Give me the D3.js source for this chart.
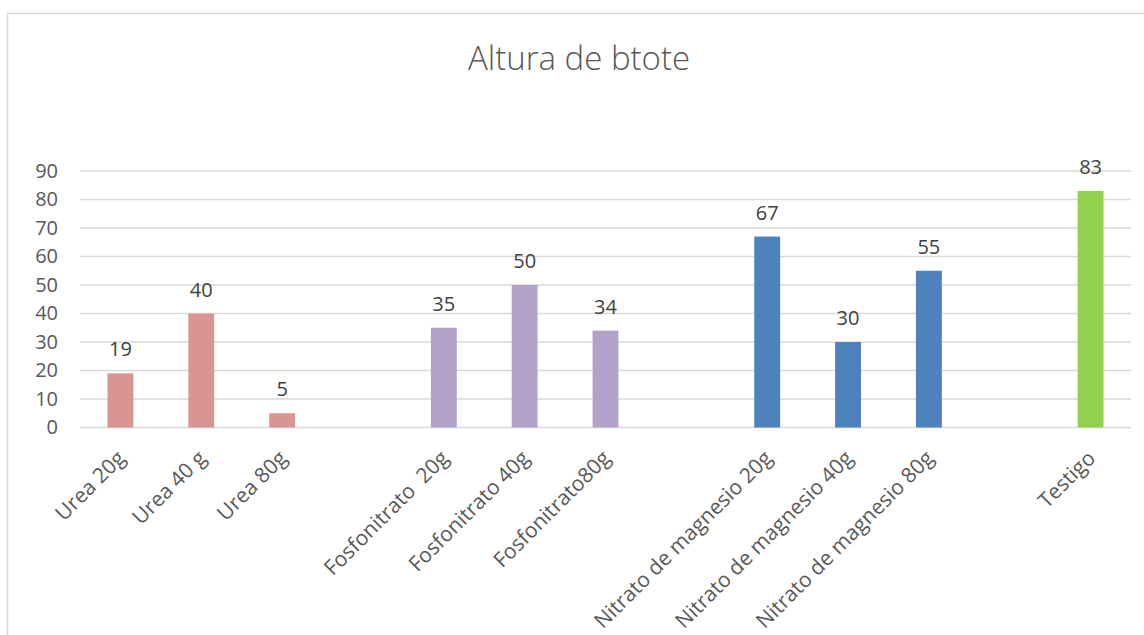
<!DOCTYPE html>
<html>
<head>
<meta charset="utf-8">
<script src="https://cdn.jsdelivr.net/npm/d3@7"></script>
<style>
  body { margin: 0; background: #fff; }
  svg text { font-family: "Open Sans", sans-serif; fill: #595959; }
</style>
</head>
<body>
<div id="chart"></div>
<script>
// categories (blank entries are the gaps between groups)
const categories = ["Urea 20g", "Urea 40 g", "Urea 80g", "",
  "Fosfonitrato  20g", "Fosfonitrato 40g", "Fosfonitrato80g", "",
  "Nitrato de magnesio 20g", "Nitrato de magnesio 40g", "Nitrato de magnesio 80g", "",
  "Testigo"];
const values = [19, 40, 5, null, 35, 50, 34, null, 67, 30, 55, null, 83];
const groups = ["urea", "urea", "urea", null, "fosfo", "fosfo", "fosfo", null,
  "nitrato", "nitrato", "nitrato", null, "testigo"];
const yTicks = [0, 10, 20, 30, 40, 50, 60, 70, 80, 90];
const title = "Altura de btote";

const colors = { urea: "#D99594", fosfo: "#B2A2C7", nitrato: "#4F81BD", testigo: "#92D050" };

const width = 1144, height = 635;
const plot = { left: 80, right: 1131, top: 171, bottom: 427.5 };

const svg = d3.select("#chart").append("svg")
  .attr("width", width)
  .attr("height", height);

// chart border
svg.append("rect")
  .attr("x", 7.5).attr("y", 13.5)
  .attr("width", 1300).attr("height", 800)
  .attr("fill", "none")
  .attr("stroke", "#D9D9D9")
  .attr("stroke-width", 1.5);

svg.append("text")
  .attr("x", 579).attr("y", 70)
  .attr("text-anchor", "middle")
  .style("font-size", "33px")
  .style("font-weight", 300)
  .text(title);

let x = d3.scaleBand()
  .domain(d3.range(categories.length))
  .range([plot.left, plot.right])
  .paddingInner(0.68)
  .paddingOuter(0.34);

let y = d3.scaleLinear()
  .domain([0, 90])
  .range([plot.bottom, plot.top]);

// gridlines
svg.append("g")
  .selectAll("line")
  .data(yTicks)
  .enter().append("line")
    .attr("x1", plot.left).attr("x2", plot.right)
    .attr("y1", d => y(d)).attr("y2", d => y(d))
    .attr("stroke", "#D9D9D9")
    .attr("stroke-width", 1.5);

// y axis labels
let yAxis = svg.append("g")
  .attr("transform", "translate(" + (plot.left - 10) + ",0)")
  .call(d3.axisLeft(y).tickValues(yTicks).tickSize(0).tickPadding(12));
yAxis.select(".domain").remove();
yAxis.selectAll("text")
  .style("font-size", "20px")
  .attr("fill", "#595959");

// bars
let bars = d3.range(categories.length).filter(i => values[i] !== null);
svg.append("g")
  .selectAll("rect")
  .data(bars)
  .enter().append("rect")
    .attr("x", i => x(i))
    .attr("y", i => y(values[i]))
    .attr("width", x.bandwidth())
    .attr("height", i => y(0) - y(values[i]))
    .attr("fill", i => colors[groups[i]]);

// data labels
svg.append("g")
  .selectAll("text")
  .data(bars)
  .enter().append("text")
    .attr("x", i => x(i) + x.bandwidth() / 2)
    .attr("y", i => y(values[i]) - 17)
    .attr("text-anchor", "middle")
    .style("font-size", "20px")
    .style("fill", "#404040")
    .text(i => values[i]);

// x axis labels
let xAxis = svg.append("g")
  .attr("transform", "translate(0," + plot.bottom + ")")
  .call(d3.axisBottom(x).tickFormat(i => categories[i]).tickSize(0));
xAxis.select(".domain").remove();
xAxis.selectAll("text")
  .attr("y", 0).attr("dy", 0)
  .attr("text-anchor", "end")
  .attr("transform", "translate(6,32) rotate(-45)")
  .style("font-size", "21px")
  .style("white-space", "pre")
  .attr("fill", "#595959");
</script>
</body>
</html>
